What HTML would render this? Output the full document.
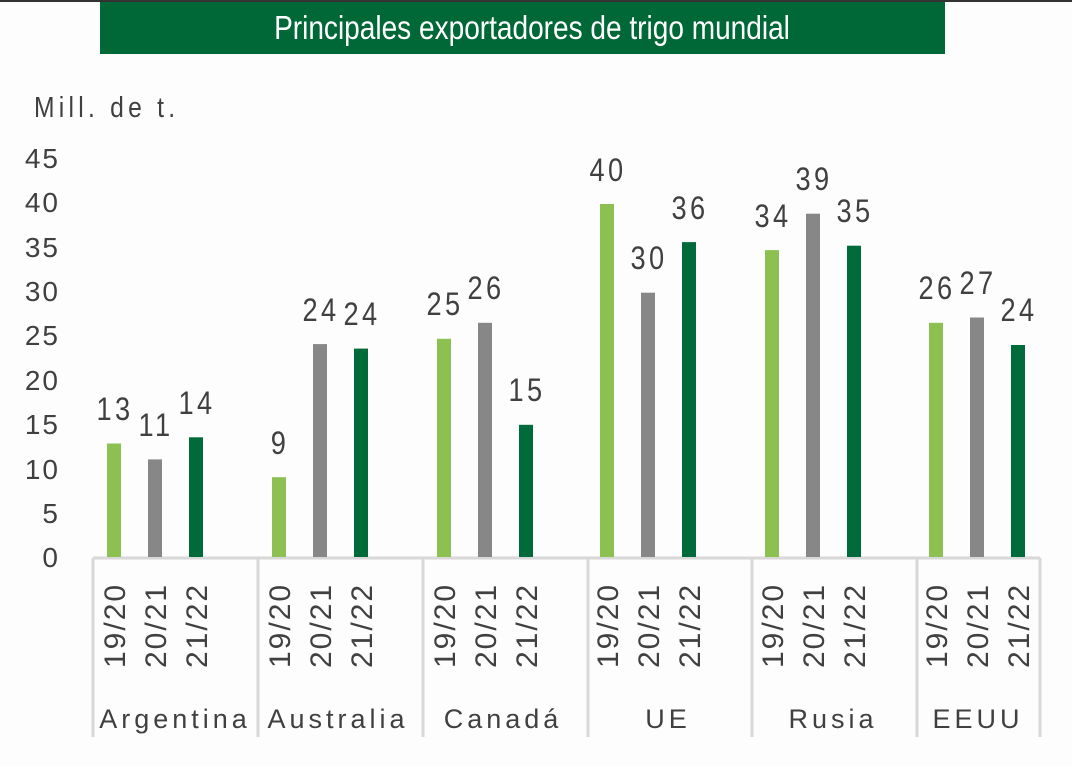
<!DOCTYPE html>
<html><head><meta charset="utf-8"><style>
html,body{margin:0;padding:0;background:#fdfdfd;}
svg{display:block;}
text{font-family:"Liberation Sans",sans-serif;fill:#404040;}
.v text{transform-box:fill-box;transform-origin:center bottom;transform:scaleX(0.85);}
</style></head><body>
<svg width="1072" height="767" viewBox="0 0 1072 767">
<rect x="0" y="0" width="1072" height="2" fill="#333"/>
<rect x="100" y="2" width="845" height="52" fill="#006837"/>
<text x="532" y="39" text-anchor="middle" font-size="33" style="fill:#fff" transform="translate(532 0) scale(0.85 1) translate(-532 0)">Principales exportadores de trigo mundial</text>
<text x="34" y="117" font-size="29" letter-spacing="5" transform="translate(34 0) scale(0.85 1) translate(-34 0)">Mill. de t.</text>
<g font-size="28" text-anchor="end" letter-spacing="2">
<text x="60" y="168">45</text><text x="60" y="212">40</text><text x="60" y="257">35</text>
<text x="60" y="301">30</text><text x="60" y="345">25</text><text x="60" y="390">20</text>
<text x="60" y="434">15</text><text x="60" y="479">10</text><text x="60" y="523">5</text>
<text x="60" y="567">0</text>
</g>
<g stroke="#d8d8d8" stroke-width="3">
<line x1="93" y1="558" x2="1040" y2="558"/>
<line x1="93" y1="558" x2="93" y2="737"/>
<line x1="258" y1="558" x2="258" y2="737"/>
<line x1="423" y1="558" x2="423" y2="737"/>
<line x1="588" y1="558" x2="588" y2="737"/>
<line x1="752" y1="558" x2="752" y2="737"/>
<line x1="917" y1="558" x2="917" y2="737"/>
<line x1="1040" y1="558" x2="1040" y2="737"/>
</g>
<g>
<rect x="107" y="443.5" width="14" height="113.5" fill="#8cc152"/>
<rect x="148" y="459.4" width="14" height="97.6" fill="#878787"/>
<rect x="189" y="437.3" width="14" height="119.7" fill="#006b3a"/>
<rect x="272" y="477.2" width="14" height="79.8" fill="#8cc152"/>
<rect x="313" y="344.1" width="14" height="212.9" fill="#878787"/>
<rect x="354" y="348.6" width="14" height="208.4" fill="#006b3a"/>
<rect x="437" y="338.8" width="14" height="218.2" fill="#8cc152"/>
<rect x="478" y="322.8" width="14" height="234.2" fill="#878787"/>
<rect x="519" y="424.8" width="14" height="132.2" fill="#006b3a"/>
<rect x="600" y="204" width="14" height="353" fill="#8cc152"/>
<rect x="641" y="292.7" width="14" height="264.3" fill="#878787"/>
<rect x="682" y="242.1" width="14" height="314.9" fill="#006b3a"/>
<rect x="765" y="250.1" width="14" height="306.9" fill="#8cc152"/>
<rect x="806" y="213.7" width="14" height="343.3" fill="#878787"/>
<rect x="847" y="245.7" width="14" height="311.3" fill="#006b3a"/>
<rect x="929" y="322.8" width="14" height="234.2" fill="#8cc152"/>
<rect x="970" y="317.5" width="14" height="239.5" fill="#878787"/>
<rect x="1011" y="345" width="14" height="212" fill="#006b3a"/>
</g>
<g class="v" font-size="32" text-anchor="middle" letter-spacing="4">
<text x="115" y="420">13</text><text x="156" y="436">11</text><text x="197" y="414">14</text>
<text x="280" y="454">9</text><text x="321" y="321">24</text><text x="362" y="325">24</text>
<text x="445" y="315">25</text><text x="486" y="299">26</text><text x="527" y="401">15</text>
<text x="608" y="181">40</text><text x="649" y="269">30</text><text x="690" y="219">36</text>
<text x="773" y="227">34</text><text x="814" y="190">39</text><text x="855" y="222">35</text>
<text x="937" y="299">26</text><text x="978" y="294">27</text><text x="1019" y="321">24</text>
</g>
<g font-size="30" letter-spacing="2">
<text transform="translate(125 668) rotate(-90)">19/20</text>
<text transform="translate(166 668) rotate(-90)">20/21</text>
<text transform="translate(207 668) rotate(-90)">21/22</text>
<text transform="translate(290 668) rotate(-90)">19/20</text>
<text transform="translate(331 668) rotate(-90)">20/21</text>
<text transform="translate(372 668) rotate(-90)">21/22</text>
<text transform="translate(455 668) rotate(-90)">19/20</text>
<text transform="translate(496 668) rotate(-90)">20/21</text>
<text transform="translate(537 668) rotate(-90)">21/22</text>
<text transform="translate(618 668) rotate(-90)">19/20</text>
<text transform="translate(659 668) rotate(-90)">20/21</text>
<text transform="translate(700 668) rotate(-90)">21/22</text>
<text transform="translate(783 668) rotate(-90)">19/20</text>
<text transform="translate(824 668) rotate(-90)">20/21</text>
<text transform="translate(865 668) rotate(-90)">21/22</text>
<text transform="translate(947 668) rotate(-90)">19/20</text>
<text transform="translate(988 668) rotate(-90)">20/21</text>
<text transform="translate(1029 668) rotate(-90)">21/22</text>
</g>
<g font-size="27" text-anchor="middle" letter-spacing="4">
<text x="175" y="728">Argentina</text><text x="338" y="728">Australia</text>
<text x="503" y="728">Canadá</text><text x="668" y="728">UE</text>
<text x="833" y="728">Rusia</text><text x="978" y="728">EEUU</text>
</g>
</svg>
</body></html>
